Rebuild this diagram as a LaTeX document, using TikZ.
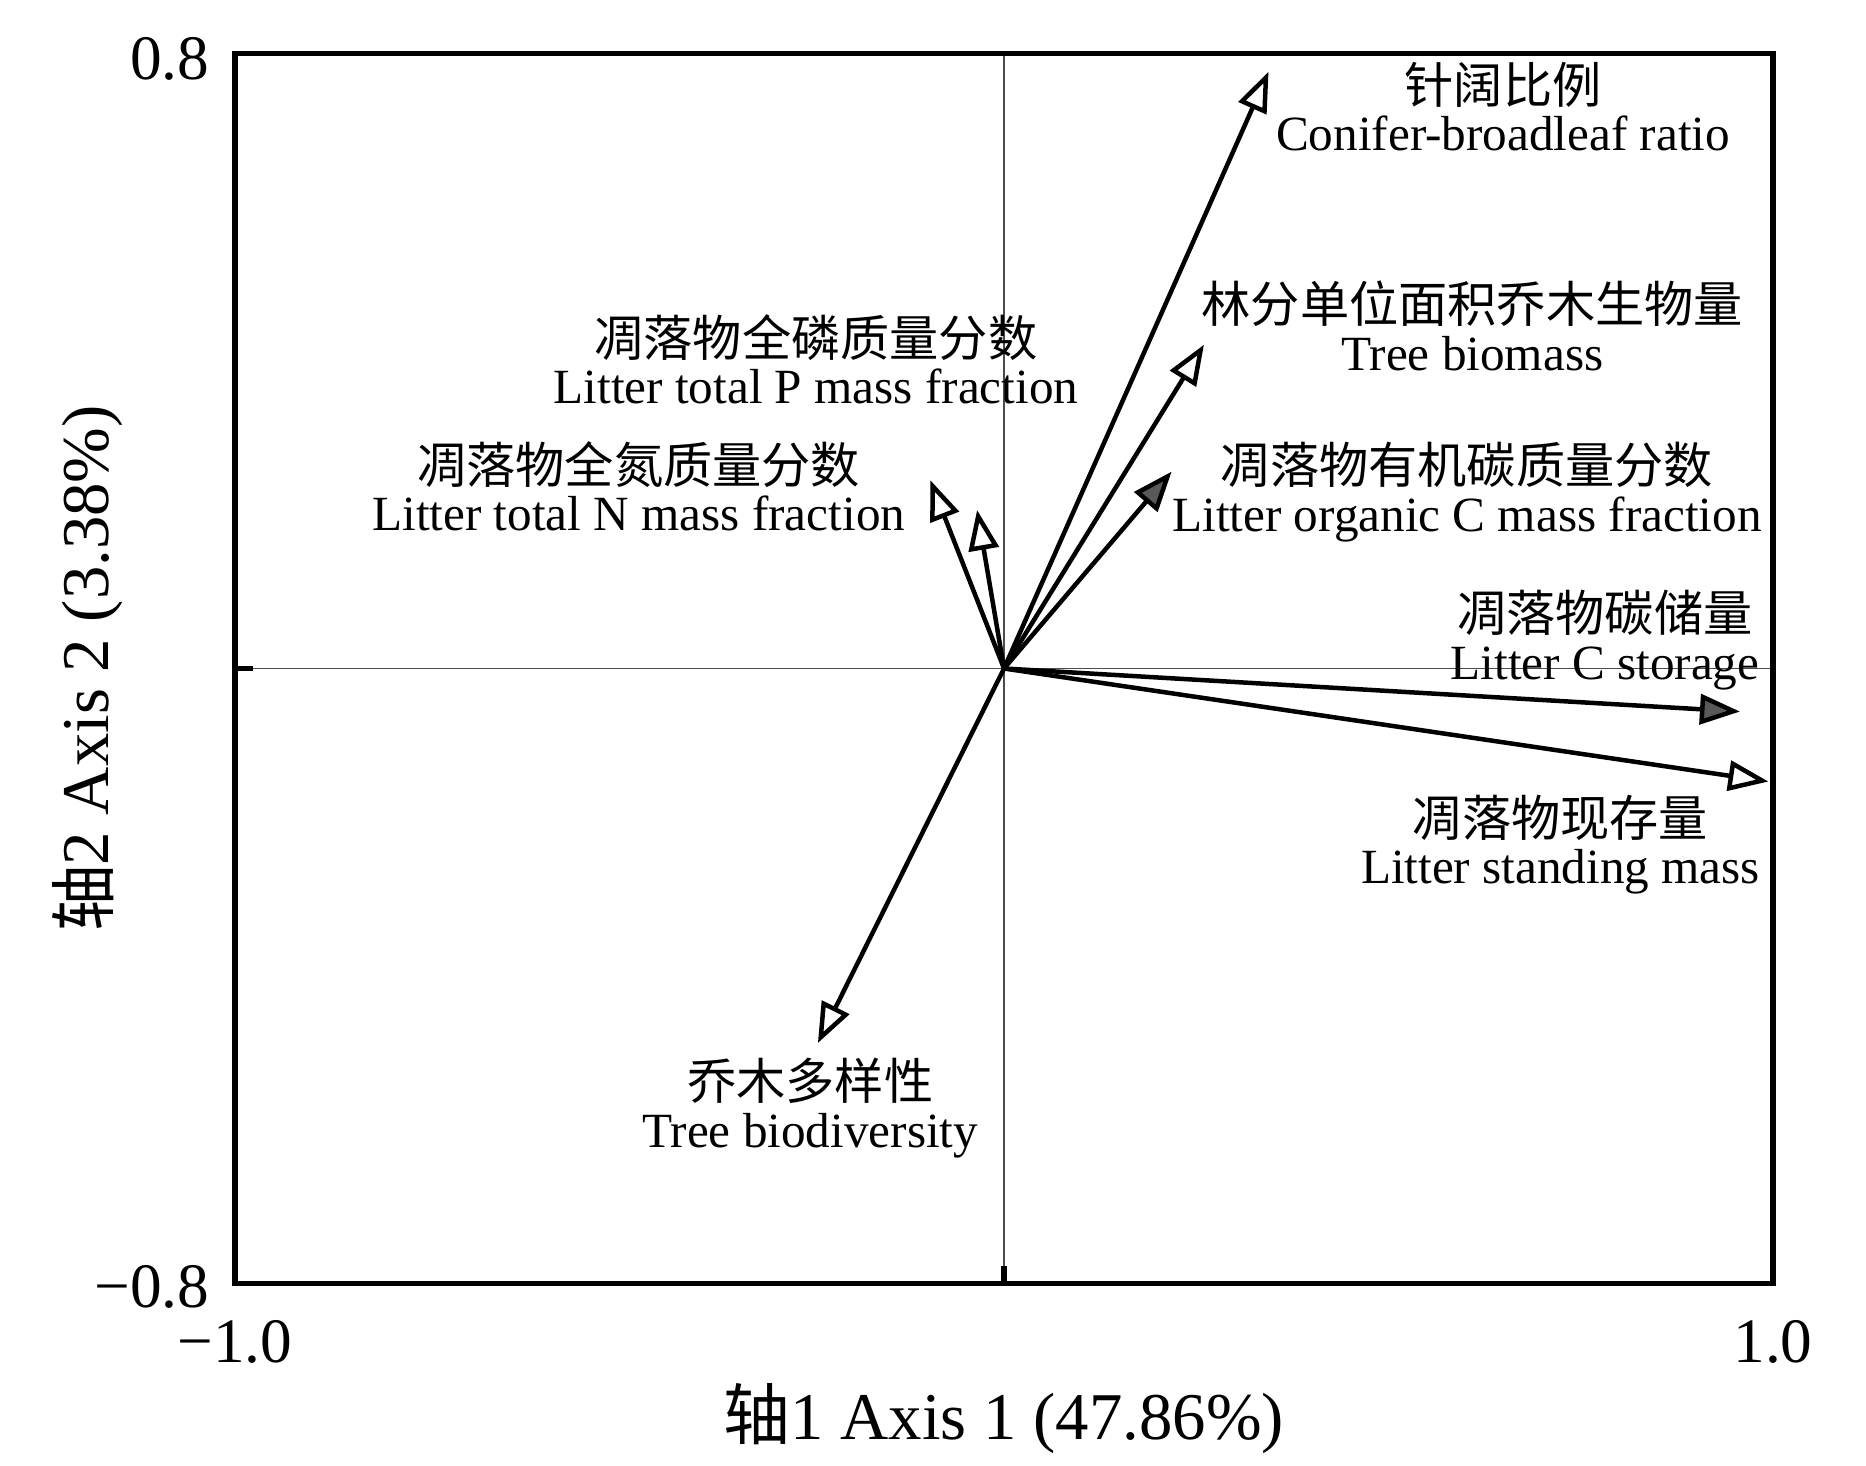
\documentclass[tikz,border=0pt]{standalone}
\usepackage{fontspec}
\setmainfont{Liberation Serif}
\newfontfamily\cjk{Noto Sans CJK SC}
\usetikzlibrary{arrows.meta}

\begin{document}
\begin{tikzpicture}
	[
	x=7.69cm, y=7.69cm,
	lab/.style={inner sep=0pt, anchor=base, font=\fontsize{14pt}{16pt}\selectfont},
	cnlab/.style={lab, font=\fontsize{14pt}{16pt}\selectfont\cjk},
	ticklab/.style={inner sep=0pt, font=\fontsize{18pt}{20pt}\selectfont},
	axtitle/.style={inner sep=0pt, anchor=base, font=\fontsize{19pt}{22pt}\selectfont},
	openvec/.style={line width=0.045cm, -{Triangle[open, length=0.40cm, width=0.30cm]}},
	fillvec/.style={line width=0.045cm, -{Triangle[fill=black!65, length=0.40cm, width=0.30cm]}},
	]
		\useasboundingbox (-1.3056,-1.0358) rectangle (1.1209,0.8693);
		
		% axes through the origin
		\coordinate (o) at (0,0);
		\draw[black!70, line width=0.015cm] (-1,0) -- (1,0);
		\draw[black!70, line width=0.015cm] (0,-0.8) -- (0,0.8);
		
		% vector tips
		\coordinate (cbr) at ( 0.344,  0.776);
		\coordinate (tbm) at ( 0.260,  0.421);
		\coordinate (loc) at ( 0.218,  0.256);
		\coordinate (ltn) at (-0.096,  0.245);
		\coordinate (ltp) at (-0.035,  0.206);
		\coordinate (lcs) at ( 0.957, -0.056);
		\coordinate (lsm) at ( 0.994, -0.147);
		\coordinate (tbd) at (-0.242, -0.487);
		
		\foreach \to in {cbr,tbm,ltn,ltp,lsm,tbd} \draw[openvec] (o) -- (\to);
		\foreach \to in {loc,lcs} \draw[fillvec] (o) -- (\to);
		
		% labels
		\node[cnlab] (cbr-cn) at ( 0.649,  0.735) {针阔比例};
		\node[lab]   (cbr-en) at ( 0.649,  0.673) {Conifer-broadleaf ratio};
		\node[cnlab] (tbm-cn) at ( 0.609,  0.450) {林分单位面积乔木生物量};
		\node[lab]   (tbm-en) at ( 0.609,  0.3875) {Tree biomass};
		\node[cnlab] (ltp-cn) at (-0.2445, 0.406) {凋落物全磷质量分数};
		\node[lab]   (ltp-en) at (-0.2445, 0.344) {Litter total P mass fraction};
		\node[cnlab] (ltn-cn) at (-0.475,  0.241) {凋落物全氮质量分数};
		\node[lab]   (ltn-en) at (-0.475,  0.179) {Litter total N mass fraction};
		\node[cnlab] (loc-cn) at ( 0.602,  0.240) {凋落物有机碳质量分数};
		\node[lab]   (loc-en) at ( 0.602,  0.1775) {Litter organic C mass fraction};
		\node[cnlab] (lcs-cn) at ( 0.7815, 0.0487) {凋落物碳储量};
		\node[lab]   (lcs-en) at ( 0.7815,-0.0137) {Litter C storage};
		\node[cnlab] (lsm-cn) at ( 0.7237,-0.218) {凋落物现存量};
		\node[lab]   (lsm-en) at ( 0.7237,-0.280) {Litter standing mass};
		\node[cnlab] (tbd-cn) at (-0.252, -0.561) {乔木多样性};
		\node[lab]   (tbd-en) at (-0.252, -0.6235) {Tree biodiversity};
		
		% frame and ticks
		\draw[line width=0.055cm] (-1,-0.8) rectangle (1,0.8);
		\draw[line width=0.055cm] (-1,0) -- (-0.9766,0);
		\draw[line width=0.055cm] (0,-0.8) -- (0,-0.7766);
		
		% tick labels
		\node[ticklab, anchor=base east] (y-top) at (-1.0325, 0.7653) {0.8};
		\node[ticklab, anchor=base east] (y-bot) at (-1.0325,-0.8303) {−0.8};
		\node[ticklab, anchor=base] (x-left) at (-1.0,-0.903) {−1.0};
		\node[ticklab, anchor=base] (x-right) at ( 1.0,-0.903) {1.0};
		
		% axis titles
		\node[axtitle] (x-title) at (0,-1.003) {{\cjk 轴}1 Axis 1 (47.86\%)};
		\node[axtitle, rotate=90] (y-title) at (-1.165,0) {{\cjk 轴}2 Axis 2 (3.38\%)};
		
	\end{tikzpicture}
\end{document}
